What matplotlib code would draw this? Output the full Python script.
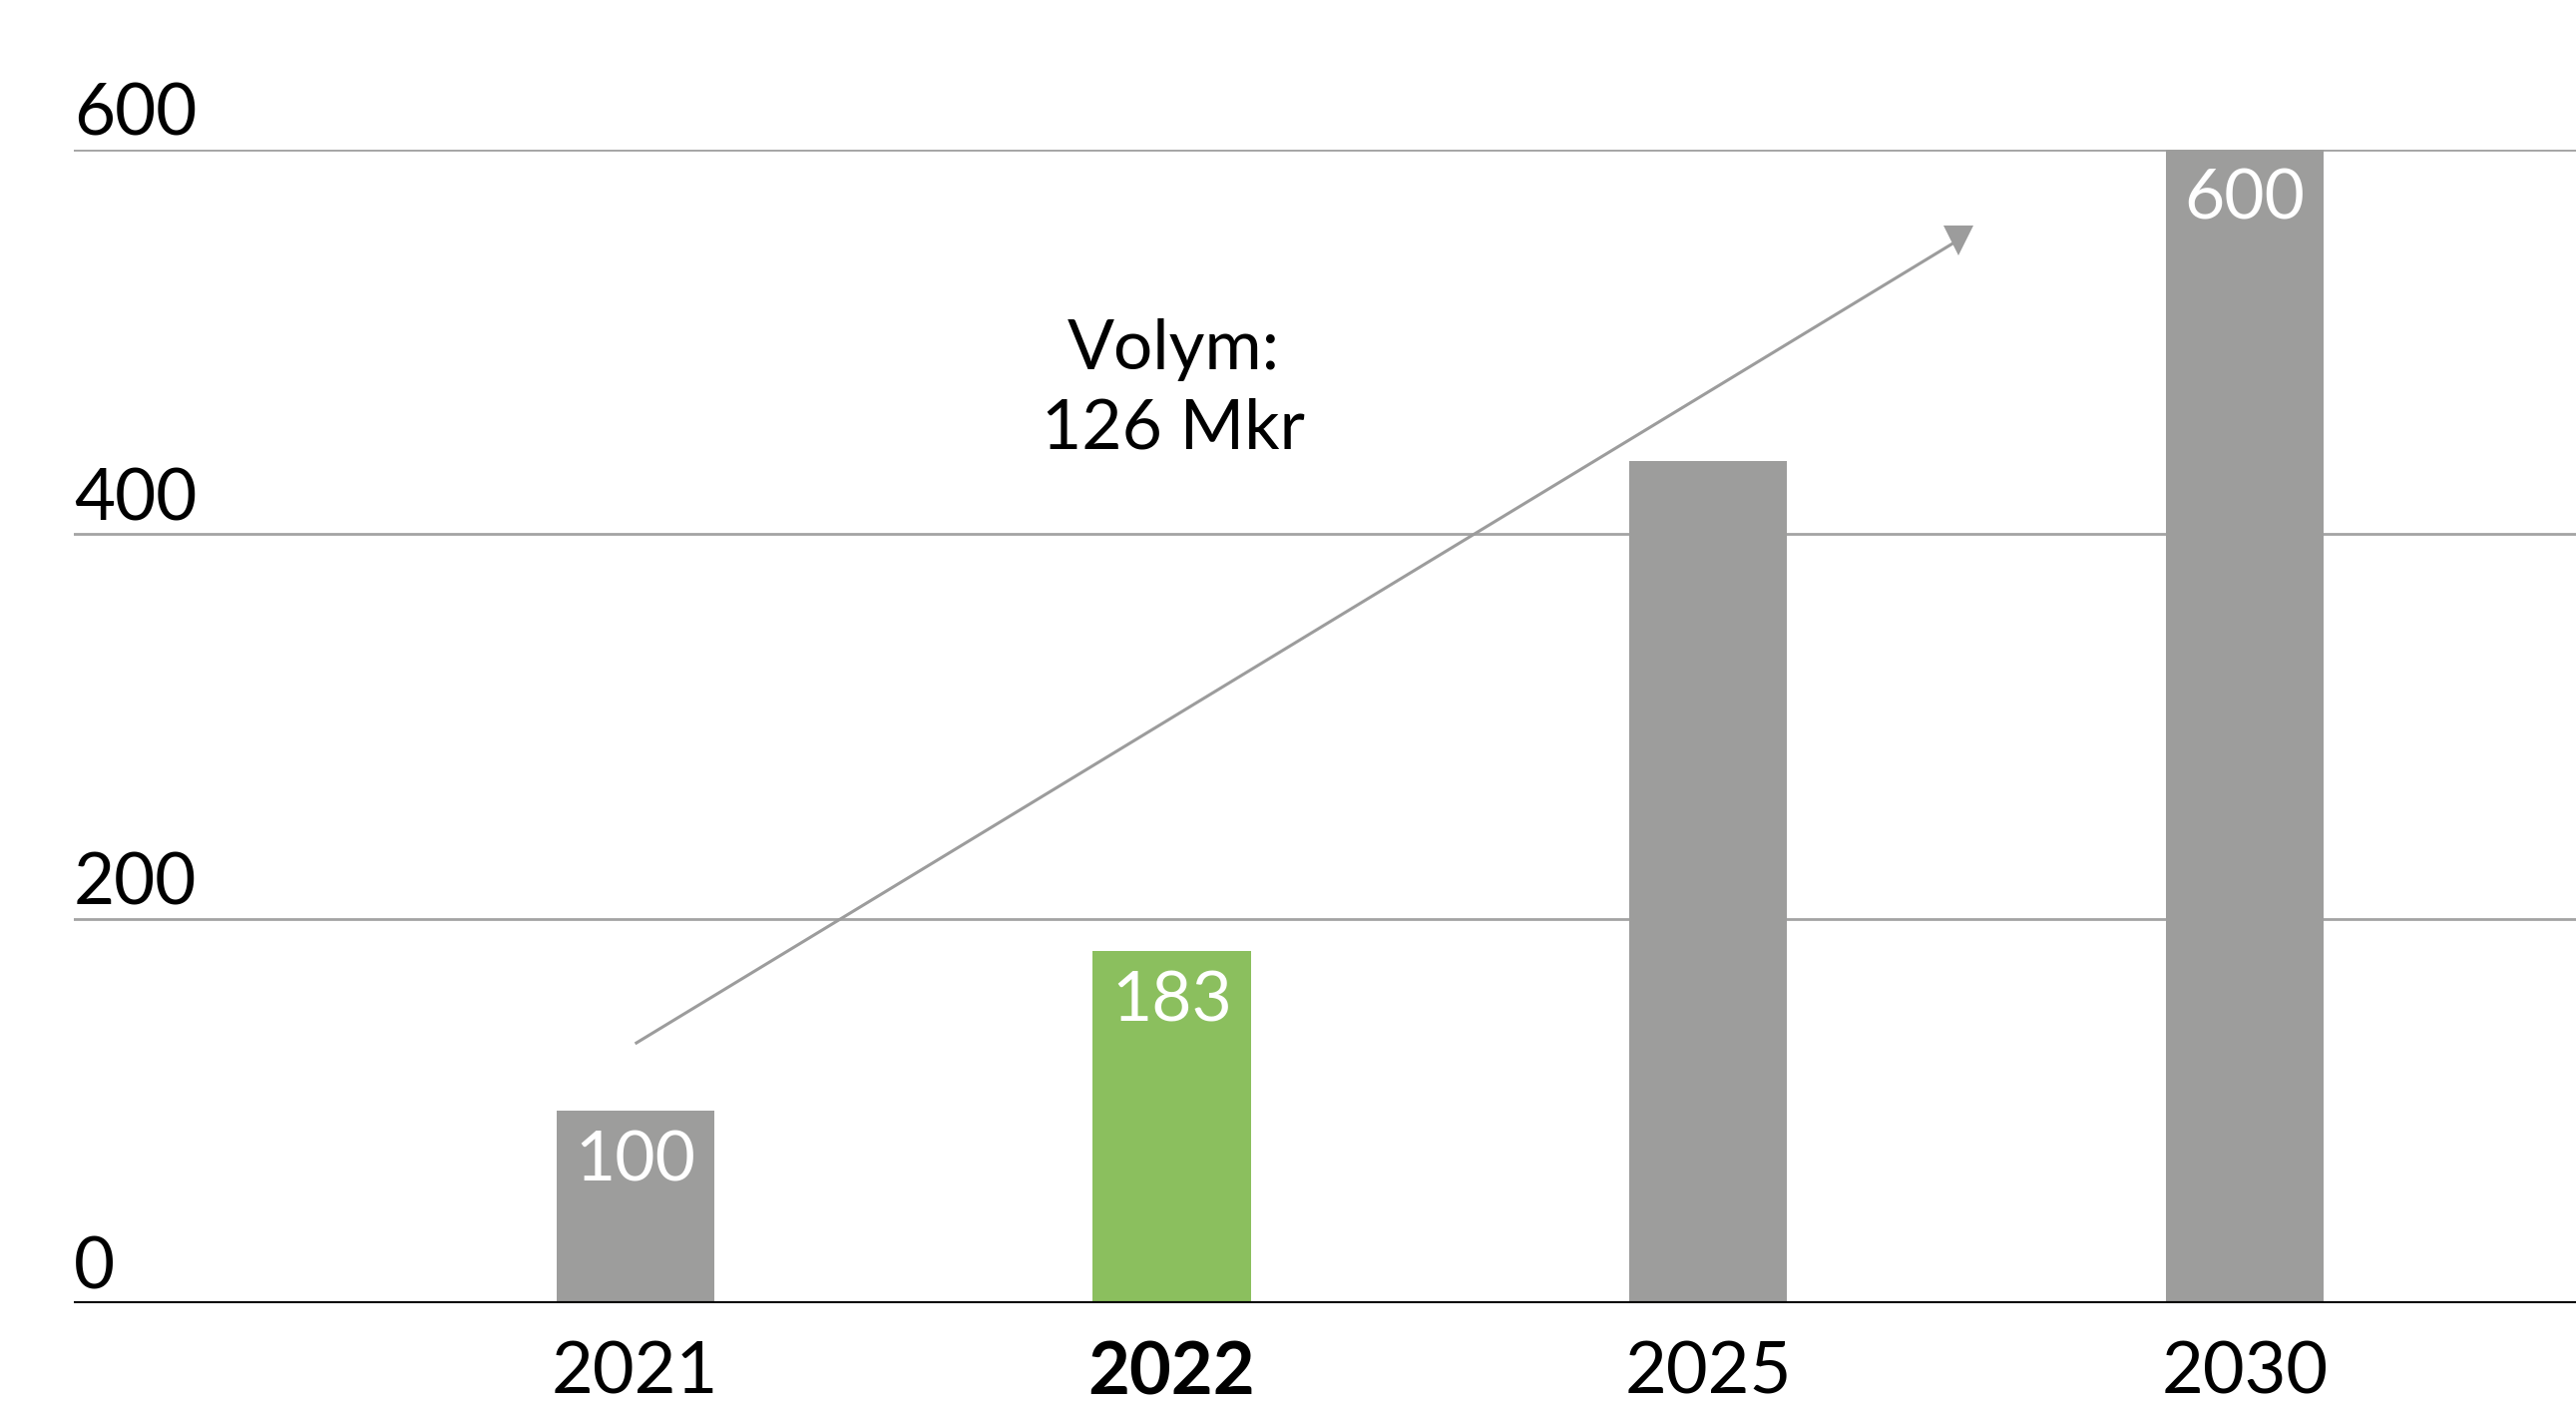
import matplotlib
matplotlib.use("Agg")
import matplotlib.pyplot as plt
import matplotlib.transforms as mtransforms

# ---- data ----
years = ["2021", "2022", "2025", "2030"]
values = [100, 183, 438, 600]
value_labels = ["100", "183", "", "600"]
bar_colors = ["#9d9d9c", "#8bbf5e", "#9d9d9c", "#9d9d9c"]
highlight_year = "2022"
y_ticks = [0, 200, 400, 600]
annotation_lines = ["Volym:", "126 Mkr"]
arrow_start = (0.0, 135)
arrow_end = (2.466, 553)

plt.rcParams['font.family'] = ['Lato', 'DejaVu Sans']

fig = plt.figure(figsize=(25.82, 14.10), dpi=100)
ax = fig.add_axes([74 / 2582, 104 / 1410, 1 - 74 / 2582, 1156 / 1410])

x = list(range(len(years)))
ax.bar(x, values, width=0.294, color=bar_colors, zorder=3)

ax.set_xlim(-1.046, 3.617)
ax.set_ylim(0, 600)

# gridlines
for v in y_ticks[1:]:
    ax.axhline(v, color="#a3a3a3", lw=2.0, zorder=1)
ax.axhline(0, color="black", lw=3.0, zorder=4)

for s in ax.spines.values():
    s.set_visible(False)

ax.set_yticks([])
ax.set_xticks(x)
ax.set_xticklabels(years, fontsize=52, color="black")
for lbl in ax.get_xticklabels():
    if lbl.get_text() == highlight_year:
        lbl.set_fontweight("bold")
ax.tick_params(axis="x", length=0, pad=27)

# y labels above gridlines
blend = mtransforms.blended_transform_factory(ax.transAxes, ax.transData)
for v in y_ticks:
    ax.annotate(str(v), xy=(0, v), xycoords=blend, xytext=(0, 14),
                textcoords="offset pixels", ha="left", va="baseline",
                fontsize=51, color="black")

# bar value labels
for xi, v, lab in zip(x, values, value_labels):
    if lab:
        ax.annotate(lab, xy=(xi, v), xytext=(0, -19), textcoords="offset pixels",
                    ha="center", va="top", fontsize=50, color="white", zorder=5)

# arrow
ax.plot([arrow_start[0], arrow_end[0]], [arrow_start[1], arrow_end[1]],
        color="#9c9c9c", lw=2.2, zorder=6, solid_capstyle="butt")
ax.plot([arrow_end[0]], [arrow_end[1]], marker="v", markersize=22,
        markeredgewidth=0, color="#9c9c9c", zorder=6, linestyle="none")

# annotation text
ax.text(1.003, 485.8, annotation_lines[0], ha="center", va="baseline",
        fontsize=50, color="black", zorder=7)
ax.text(1.003, 444.3, annotation_lines[1], ha="center", va="baseline",
        fontsize=50, color="black", zorder=7)

fig.savefig("out.png", dpi=100, facecolor="white")
